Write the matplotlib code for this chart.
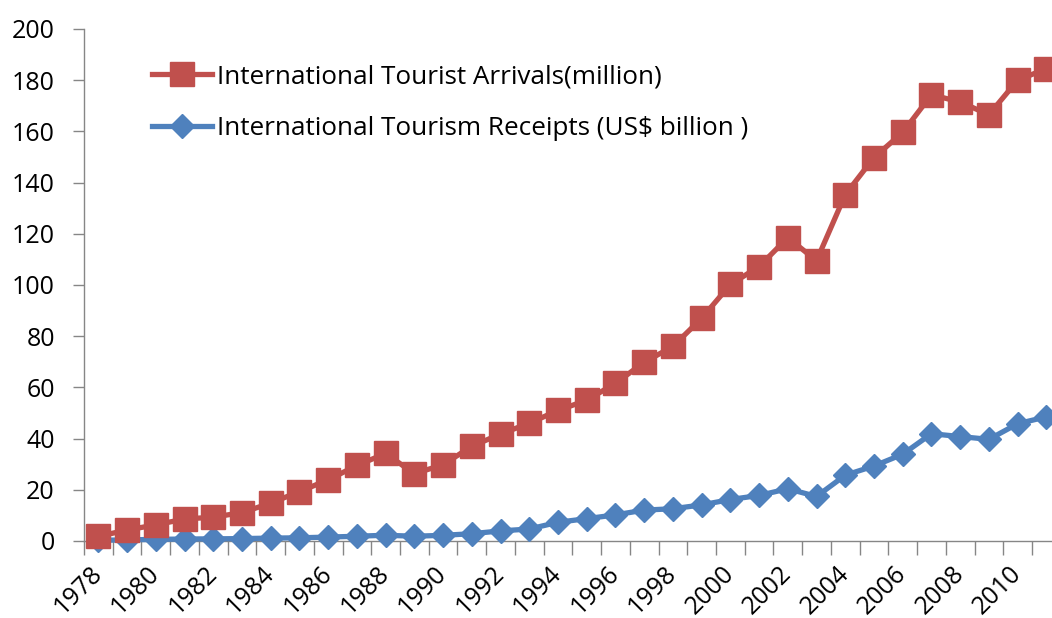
import matplotlib
matplotlib.use("Agg")
import matplotlib.pyplot as plt
import numpy as np

years = list(range(1978, 2012))
arrivals = [1.8, 4.3, 6.3, 8.6, 9.3, 11.1, 14.8, 19.3, 23.9, 29.5, 34.2, 26.3, 29.8, 37.0,
            41.8, 46.0, 51.0, 55.0, 61.6, 69.8, 76.0, 87.0, 100.2, 107.2, 118.5, 109.5,
            135.3, 149.8, 159.6, 174.3, 171.5, 166.5, 180.0, 184.5]
receipts = [0.26, 0.45, 0.62, 0.78, 0.84, 0.94, 1.13, 1.25, 1.53, 1.86, 2.25, 1.86, 2.22, 2.85,
            3.95, 4.68, 7.32, 8.73, 10.2, 12.07, 12.6, 14.1, 16.2, 17.8, 20.4, 17.4,
            25.7, 29.3, 33.9, 41.9, 40.8, 39.7, 45.8, 48.5]
labels = ["International Tourist Arrivals(million)",
          "International Tourism Receipts (US$ billion )"]
yticks = list(range(0, 201, 20))

RED = "#C0504D"
BLUE = "#4F81BD"
GRAY = "#868686"

plt.rcParams['font.family'] = ['Open Sans', 'DejaVu Sans']

W, H = 1052, 618
fig = plt.figure(figsize=(W / 100, H / 100), dpi=100)
left, right, top, bottom = 84, 1060.7, 29, 541
ax = fig.add_axes([left / W, (H - bottom) / H, (right - left) / W, (bottom - top) / H])

x = np.arange(len(years))
ax.plot(x, arrivals, color=RED, lw=3.8, marker='s', markersize=17, label=labels[0],
        zorder=4, clip_on=False, solid_joinstyle='round')
ax.plot(x, receipts, color=BLUE, lw=3.8, marker='D', markersize=12, label=labels[1],
        zorder=3, clip_on=False, solid_joinstyle='round')

ax.set_xlim(-0.5, len(years) - 0.5)
ax.set_ylim(0, 200)
ax.set_yticks(yticks)
ax.set_yticklabels([str(v) for v in yticks])

ax.set_xticks(np.arange(-0.5, len(years) + 0.5, 1.0))
ax.set_xticklabels([])
ax.set_xticks(x[::2], minor=True)
ax.set_xticklabels([str(y) for y in years[::2]], minor=True, rotation=45,
                   ha='right', va='center', rotation_mode='anchor')
ax.tick_params(axis='x', which='major', length=10, width=1, color=GRAY, direction='out')
ax.tick_params(axis='x', which='minor', length=0, pad=21, labelsize=18)
ax.tick_params(axis='y', length=8, width=1, color=GRAY, direction='out', pad=13, labelsize=18)

for s in ['top', 'right']:
    ax.spines[s].set_visible(False)
for s in ['left', 'bottom']:
    ax.spines[s].set_color(GRAY)
    ax.spines[s].set_linewidth(1)

leg = ax.legend(loc='upper left', bbox_to_anchor=(152 / W, 1 - 64 / H),
                bbox_transform=fig.transFigure, frameon=False, fontsize=18.8,
                handlelength=2.3, handletextpad=0.2, labelspacing=1.05, borderpad=0,
                borderaxespad=0)

fig.savefig("out.png", dpi=100, facecolor='white')
